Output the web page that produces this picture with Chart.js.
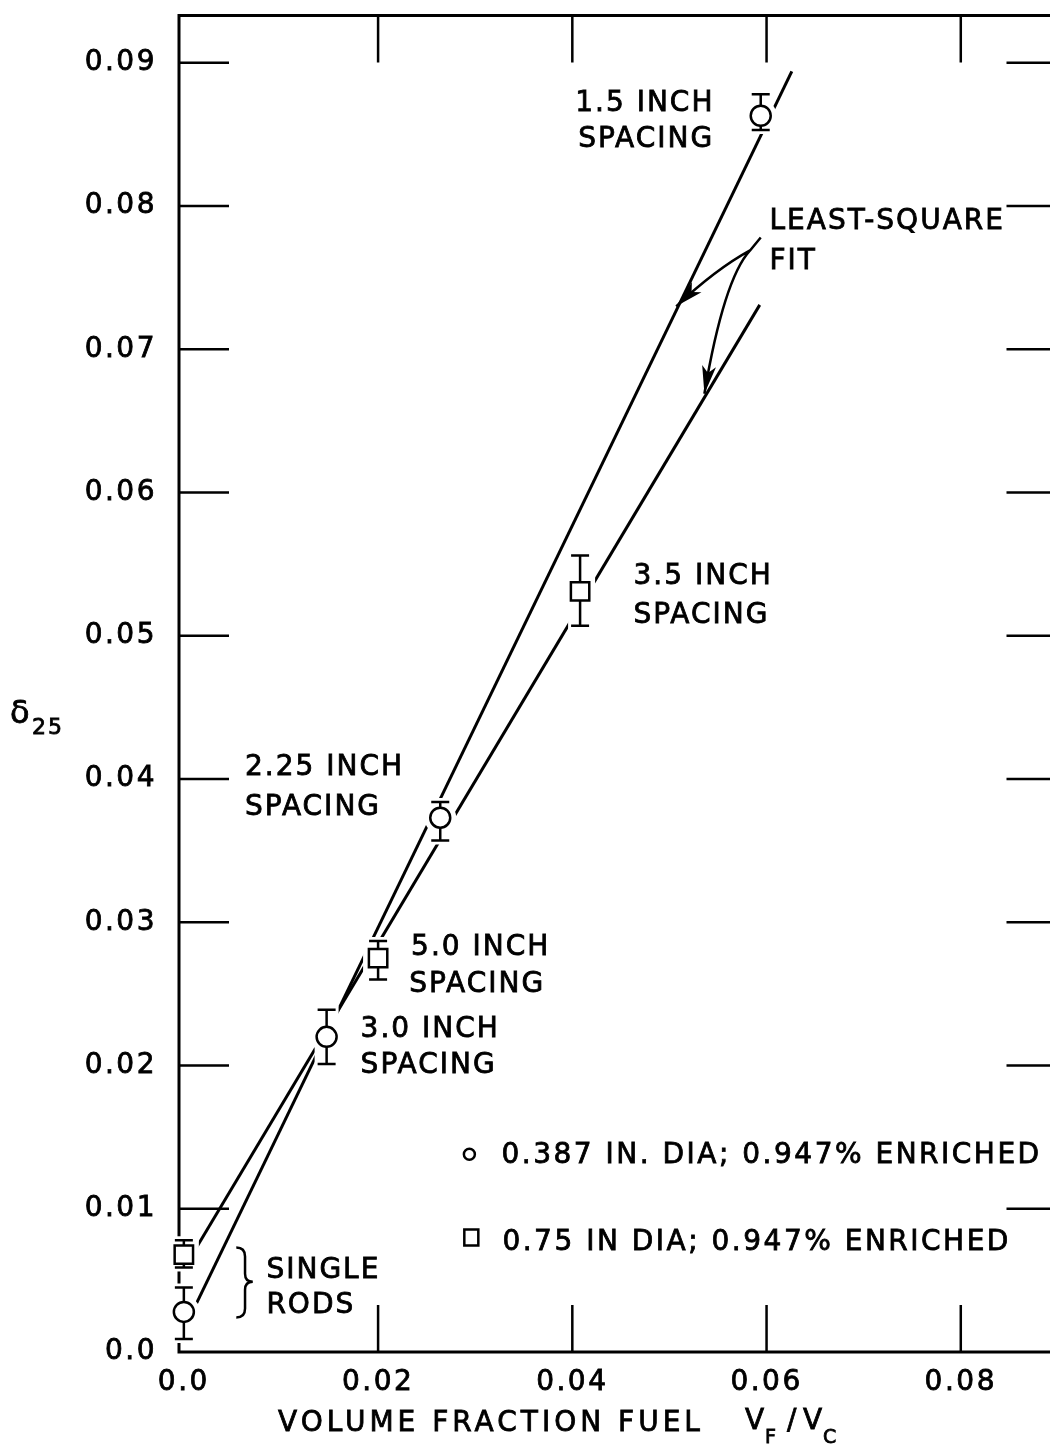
<!DOCTYPE html>
<html>
<head>
<meta charset="utf-8">
<script src="https://cdn.jsdelivr.net/npm/chart.js@4.4.0/dist/chart.umd.min.js"></script>
<style>
  html, body { margin: 0; padding: 0; background: #fff; overflow: hidden; }
  #wrap { position: absolute; left: 0; top: 0; width: 1070px; height: 1444px; }
</style>
</head>
<body>
<div id="wrap"><canvas id="deltaChart" width="1070" height="1444"></canvas></div>
<script>
// axis ticks
const xTicks = [0, 0.02, 0.04, 0.06, 0.08];
const xTickLabels = ['0.0', '0.02', '0.04', '0.06', '0.08'];
const yTicks = [0, 0.01, 0.02, 0.03, 0.04, 0.05, 0.06, 0.07, 0.08, 0.09];
const yTickLabels = ['0.0', '0.01', '0.02', '0.03', '0.04', '0.05', '0.06', '0.07', '0.08', '0.09'];

// 0.387 in. dia rods (circles): single rod, 3.0, 2.25, 1.5 inch spacing
const rodX  = [0.0, 0.0147, 0.0264, 0.0594];
const rodY  = [0.0028, 0.0220, 0.0373, 0.0863];
const rodHi = [0.0045, 0.0239, 0.0384, 0.0878];
const rodLo = [0.0009, 0.0201, 0.0357, 0.0853];

// 0.75 in dia rods (squares): single rod, 5.0, 3.5 inch spacing
const barX  = [0.0, 0.0200, 0.0408];
const barY  = [0.0068, 0.0275, 0.0531];
const barHi = [0.0078, 0.0287, 0.0556];
const barLo = [0.0059, 0.0260, 0.0507];

// least-square fit lines (end points)
const fitRodX = [0.0013, 0.0626];
const fitRodY = [0.0034, 0.0894];
const fitBarX = [0.0013, 0.0593];
const fitBarY = [0.0073, 0.0731];

// lettering placed in data units (left edge, baseline)
const notes = [
  { text: '1.5 INCH',     x: 0.0403, y: 0.0866 },
  { text: 'SPACING',      x: 0.0406, y: 0.0841 },
  { text: 'LEAST-SQUARE', x: 0.0603, y: 0.0784 },
  { text: 'FIT',          x: 0.0603, y: 0.0756 },
  { text: '3.5 INCH',     x: 0.0463, y: 0.0536 },
  { text: 'SPACING',      x: 0.0463, y: 0.0509 },
  { text: '2.25 INCH',    x: 0.0063, y: 0.0403 },
  { text: 'SPACING',      x: 0.0063, y: 0.0375 },
  { text: '5.0 INCH',     x: 0.0234, y: 0.0277 },
  { text: 'SPACING',      x: 0.0232, y: 0.0251 },
  { text: '3.0 INCH',     x: 0.0182, y: 0.0220 },
  { text: 'SPACING',      x: 0.0182, y: 0.0195 },
  { text: 'SINGLE',       x: 0.0085, y: 0.0052 },
  { text: 'RODS',         x: 0.0085, y: 0.0027 }
];
const legendRows = [
  { text: '0.387 IN. DIA; 0.947% ENRICHED', mark: 'circle', x: 0.0294, y: 0.0138, tx: 0.0327, ty: 0.0132 },
  { text: '0.75 IN DIA; 0.947% ENRICHED',   mark: 'rect',   x: 0.0296, y: 0.0080, tx: 0.0328, ty: 0.0071 }
];

const FONT = '"DejaVu Sans", sans-serif';

function pt(chart, x, y) {
  return [chart.scales.x.getPixelForValue(x), chart.scales.y.getPixelForValue(y)];
}

function label(ctx, text, x, y) {
  ctx.fillText(text, x, y);
  ctx.strokeText(text, x, y);
}

function arrowHead(ctx, tip, from) {
  const a = Math.atan2(tip[1] - from[1], tip[0] - from[0]);
  const len = 28, half = 7;
  ctx.beginPath();
  ctx.moveTo(tip[0], tip[1]);
  ctx.lineTo(tip[0] - len * Math.cos(a) + half * Math.sin(a), tip[1] - len * Math.sin(a) - half * Math.cos(a));
  ctx.lineTo(tip[0] - len * 0.75 * Math.cos(a), tip[1] - len * 0.75 * Math.sin(a));
  ctx.lineTo(tip[0] - len * Math.cos(a) - half * Math.sin(a), tip[1] - len * Math.sin(a) + half * Math.cos(a));
  ctx.closePath();
  ctx.fill();
}

const framePlugin = {
  id: 'frame',
  beforeDraw(chart) {
    chart.ctx.letterSpacing = '2.5px';
  },
  beforeDatasetsDraw(chart) {
    const { ctx, chartArea: a, scales } = chart;
    ctx.save();
    ctx.strokeStyle = '#000';
    ctx.lineWidth = 3;
    ctx.strokeRect(a.left, a.top, a.right - a.left, a.bottom - a.top);
    ctx.lineWidth = 2.5;
    ctx.beginPath();
    yTicks.forEach(v => {
      if (v === 0) return;
      const y = scales.y.getPixelForValue(v);
      ctx.moveTo(a.left, y); ctx.lineTo(a.left + 50, y);
      ctx.moveTo(a.right - 48, y); ctx.lineTo(a.right, y);
    });
    xTicks.forEach(v => {
      if (v === 0) return;
      const x = scales.x.getPixelForValue(v);
      ctx.moveTo(x, a.top); ctx.lineTo(x, a.top + 47);
      ctx.moveTo(x, a.bottom - 47); ctx.lineTo(x, a.bottom);
    });
    ctx.stroke();
    ctx.restore();
    chart.$barsDone = false;
  },
  beforeDatasetDraw(chart, args) {
    if (chart.$barsDone || !chart.data.datasets[args.index].isMarker) return;
    chart.$barsDone = true;
    const { ctx } = chart;
    const sets = [
      { xs: rodX, ys: rodY, hi: rodHi, lo: rodLo, rect: false },
      { xs: barX, ys: barY, hi: barHi, lo: barLo, rect: true }
    ];
    ctx.save();
    // white clearance round each point so the fit lines break there
    ctx.strokeStyle = '#fff';
    ctx.fillStyle = '#fff';
    sets.forEach(s => s.xs.forEach((xv, i) => {
      const [x, y] = pt(chart, xv, s.ys[i]);
      const yh = chart.scales.y.getPixelForValue(s.hi[i]);
      const yl = chart.scales.y.getPixelForValue(s.lo[i]);
      ctx.lineWidth = 24;
      ctx.beginPath();
      ctx.moveTo(x, yh - 4); ctx.lineTo(x, yl + 4);
      ctx.stroke();
      if (s.rect) ctx.fillRect(x - 15, y - 15, 30, 30);
      else { ctx.beginPath(); ctx.arc(x, y, 16, 0, Math.PI * 2); ctx.fill(); }
    }));
    // error bars
    ctx.strokeStyle = '#000';
    ctx.lineWidth = 2.5;
    ctx.beginPath();
    sets.forEach(s => s.xs.forEach((xv, i) => {
      const x = chart.scales.x.getPixelForValue(xv);
      const yh = chart.scales.y.getPixelForValue(s.hi[i]);
      const yl = chart.scales.y.getPixelForValue(s.lo[i]);
      ctx.moveTo(x, yh); ctx.lineTo(x, yl);
      ctx.moveTo(x - 9, yh); ctx.lineTo(x + 9, yh);
      ctx.moveTo(x - 9, yl); ctx.lineTo(x + 9, yl);
    }));
    ctx.stroke();
    ctx.restore();
  },
  afterDraw(chart) {
    const { ctx } = chart;
    ctx.save();
    ctx.fillStyle = '#000';
    ctx.strokeStyle = '#000';
    ctx.textAlign = 'left';
    ctx.textBaseline = 'alphabetic';
    ctx.font = '28px ' + FONT;
    ctx.letterSpacing = '2px';
    ctx.lineWidth = 0.8;
    notes.forEach(n => {
      const [x, y] = pt(chart, n.x, n.y);
      label(ctx, n.text, x, y);
    });

    // legend
    ctx.letterSpacing = '2.5px';
    legendRows.forEach(r => {
      const [tx, ty] = pt(chart, r.tx, r.ty);
      ctx.lineWidth = 0.8;
      label(ctx, r.text, tx, ty);
      const [mx, my] = pt(chart, r.x, r.y);
      ctx.lineWidth = 2.5;
      ctx.beginPath();
      if (r.mark === 'circle') ctx.arc(mx, my, 5.5, 0, Math.PI * 2);
      else ctx.rect(mx - 7, my - 8, 14, 16);
      ctx.stroke();
    });

    // brace beside the single-rod points
    const [bx0, by0] = pt(chart, 0.0054, 0.0073);
    const [bx1, bym] = pt(chart, 0.0063, 0.0049);
    const [bx2] = pt(chart, 0.0071, 0);
    const [, by1] = pt(chart, 0, 0.0024);
    ctx.lineWidth = 2.5;
    ctx.beginPath();
    ctx.moveTo(bx0, by0);
    ctx.quadraticCurveTo(bx1, by0, bx1, by0 + 9);
    ctx.lineTo(bx1, bym - 8);
    ctx.quadraticCurveTo(bx1, bym, bx2, bym);
    ctx.quadraticCurveTo(bx1, bym, bx1, bym + 8);
    ctx.lineTo(bx1, by1 - 9);
    ctx.quadraticCurveTo(bx1, by1, bx0, by1);
    ctx.stroke();

    // arrows pointing at the two fit lines
    const start = pt(chart, 0.0594, 0.0778);
    const split = pt(chart, 0.0583, 0.0769);
    const c1 = pt(chart, 0.0548, 0.0756), tip1 = pt(chart, 0.0507, 0.0730);
    const c2 = pt(chart, 0.0556, 0.0749), tip2 = pt(chart, 0.0536, 0.0669);
    ctx.lineWidth = 2.5;
    ctx.beginPath();
    ctx.moveTo(start[0], start[1]); ctx.lineTo(split[0], split[1]);
    ctx.quadraticCurveTo(c1[0], c1[1], tip1[0], tip1[1]);
    ctx.moveTo(split[0], split[1]);
    ctx.quadraticCurveTo(c2[0], c2[1], tip2[0], tip2[1]);
    ctx.stroke();
    arrowHead(ctx, tip1, c1);
    arrowHead(ctx, tip2, c2);

    // axis titles
    ctx.lineWidth = 0.8;
    ctx.letterSpacing = '4px';
    ctx.font = '28px ' + FONT;
    label(ctx, 'VOLUME FRACTION FUEL', 278, 1431);
    ctx.letterSpacing = '0px';
    label(ctx, 'V', 745, 1429);
    label(ctx, '/', 787, 1429);
    label(ctx, 'V', 803, 1429);
    ctx.font = '19px ' + FONT;
    label(ctx, 'F', 765, 1443);
    label(ctx, 'C', 823, 1443);

    ctx.font = '32px ' + FONT;
    label(ctx, '\u03B4', 10, 723);
    ctx.letterSpacing = '2px';
    ctx.font = '22px ' + FONT;
    label(ctx, '25', 32, 734);
    ctx.restore();
  }
};

const tickFont = { family: FONT, size: 28 };

new Chart(document.getElementById('deltaChart'), {
  type: 'scatter',
  data: {
    datasets: [
      {
        type: 'line', label: 'fit 0.387', order: 2, clip: false,
        data: fitRodX.map((x, i) => ({ x, y: fitRodY[i] })),
        borderColor: '#000', borderWidth: 3, pointRadius: 0, fill: false
      },
      {
        type: 'line', label: 'fit 0.75', order: 2, clip: false,
        data: fitBarX.map((x, i) => ({ x, y: fitBarY[i] })),
        borderColor: '#000', borderWidth: 3, pointRadius: 0, fill: false
      },
      {
        label: '0.387 IN. DIA', order: 1, isMarker: true, clip: false,
        data: rodX.map((x, i) => ({ x, y: rodY[i] })),
        pointStyle: 'circle', pointRadius: 10,
        borderColor: '#000', borderWidth: 2.5, backgroundColor: '#fff'
      },
      {
        label: '0.75 IN DIA', order: 1, isMarker: true, clip: false,
        data: barX.map((x, i) => ({ x, y: barY[i] })),
        pointStyle: 'rect', pointRadius: 13,
        borderColor: '#000', borderWidth: 2.5, backgroundColor: '#fff'
      }
    ]
  },
  options: {
    responsive: false,
    devicePixelRatio: 1,
    animation: false,
    layout: { padding: { top: 0, right: 12, left: 0, bottom: 0 } },
    plugins: { legend: { display: false }, tooltip: { enabled: false } },
    scales: {
      x: {
        type: 'linear', position: 'bottom', min: -0.0005, max: 0.08965,
        afterFit: s => { s.height = 92; s.paddingLeft = 0; s.paddingRight = 0; },
        afterBuildTicks: s => { s.ticks = xTicks.map(v => ({ value: v })); },
        grid: { display: false, drawTicks: false },
        border: { display: false },
        ticks: { padding: 14, color: '#000', font: tickFont, maxRotation: 0, autoSkip: false,
                 textStrokeColor: '#000', textStrokeWidth: 0.8,
                 callback: (v, i) => xTickLabels[i] }
      },
      y: {
        type: 'linear', min: 0, max: 0.0933,
        afterFit: s => { s.width = 179; s.paddingTop = 15; s.paddingBottom = 0; },
        afterBuildTicks: s => { s.ticks = yTicks.map(v => ({ value: v })); },
        grid: { display: false, drawTicks: false },
        border: { display: false },
        ticks: { padding: 22, color: '#000', font: tickFont, autoSkip: false,
                 textStrokeColor: '#000', textStrokeWidth: 0.8,
                 callback: (v, i) => yTickLabels[i] }
      }
    }
  },
  plugins: [framePlugin]
});
</script>
</body>
</html>
